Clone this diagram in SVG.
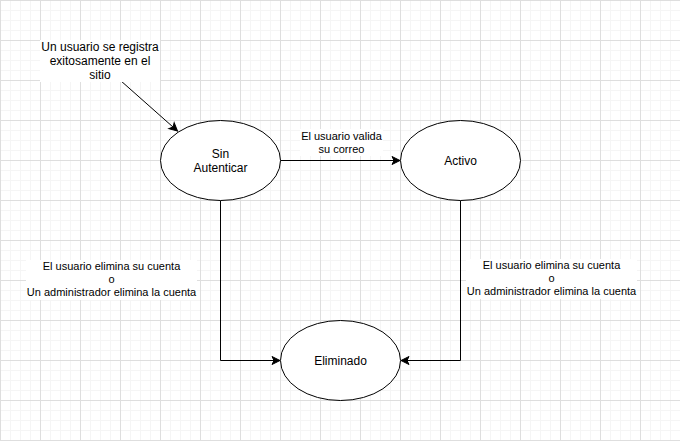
<svg xmlns="http://www.w3.org/2000/svg" width="680" height="441" viewBox="0 0 680 441">
<style>
.t{font-family:"Liberation Sans",Arial,Helvetica,sans-serif;fill:#000;text-anchor:middle}
.n{font-size:12px}
.e{font-size:11px}
.node{fill:#fff;stroke:#000;stroke-width:1}
.edge{fill:none;stroke:#000;stroke-width:1}
.lbg{fill:#fff;stroke:none}
</style>
<defs>
<pattern id="minor" width="10" height="10" patternUnits="userSpaceOnUse"><path d="M0.5,0V10M0,0.5H10" fill="none" stroke="#f5f5f5" stroke-width="1"/></pattern>
<pattern id="major" width="40" height="40" patternUnits="userSpaceOnUse"><path d="M0.5,0V40M0,0.5H40" fill="none" stroke="#dedede" stroke-width="1"/></pattern>
<marker id="arr" markerUnits="userSpaceOnUse" markerWidth="10" markerHeight="10" refX="8" refY="4" orient="auto" overflow="visible"><path d="M0,0L8,4L0,8L2,4Z" fill="#000" stroke="#000" stroke-width="1" stroke-linejoin="miter"/></marker>
</defs>
<rect width="680" height="441" fill="#fff"/>
<rect width="680" height="441" fill="url(#minor)"/>
<rect width="680" height="441" fill="url(#major)"/>

<g id="connectors">
<path class="edge" d="M120.5,80.5L177.5,131" marker-end="url(#arr)"/>
<path class="edge" d="M280.5,160.5H400" marker-end="url(#arr)"/>
<path class="edge" d="M220.5,200.5V360.5H280" marker-end="url(#arr)"/>
<path class="edge" d="M460.5,200.5V360.5H401" marker-end="url(#arr)"/>
</g>

<g id="labels">
<g id="label-start">
<rect class="lbg" x="40" y="40" width="120" height="42"/>
<text class="t n"><tspan x="100" y="50.6">Un usuario se registra</tspan><tspan x="100" y="65">exitosamente en el</tspan><tspan x="100" y="79.4">sitio</tspan></text>
</g>
<g id="label-valida">
<rect class="lbg" x="300" y="129" width="83" height="27"/>
<text class="t e"><tspan x="341.5" y="139.6">El usuario valida</tspan><tspan x="341.5" y="152.8">su correo</tspan></text>
</g>
<g id="label-left">
<rect class="lbg" x="26" y="260" width="171" height="40"/>
<text class="t e"><tspan x="111.5" y="270">El usuario elimina su cuenta</tspan><tspan x="111.5" y="283.2">o</tspan><tspan x="111.5" y="296.4">Un administrador elimina la cuenta</tspan></text>
</g>
<g id="label-right">
<rect class="lbg" x="466" y="259" width="171" height="40"/>
<text class="t e"><tspan x="551.5" y="269">El usuario elimina su cuenta</tspan><tspan x="551.5" y="282.2">o</tspan><tspan x="551.5" y="295.4">Un administrador elimina la cuenta</tspan></text>
</g>
</g>

<g id="sin-autenticar">
<ellipse class="node" cx="220.5" cy="160.5" rx="60" ry="40"/>
<text class="t n"><tspan x="220.5" y="157.5">Sin</tspan><tspan x="220.5" y="171.9">Autenticar</tspan></text>
</g>
<g id="activo">
<ellipse class="node" cx="460.5" cy="160.5" rx="60" ry="40"/>
<text class="t n" x="460.5" y="164.8">Activo</text>
</g>
<g id="eliminado">
<ellipse class="node" cx="340.5" cy="360.5" rx="60" ry="40"/>
<text class="t n" x="340.5" y="364.8">Eliminado</text>
</g>
</svg>
